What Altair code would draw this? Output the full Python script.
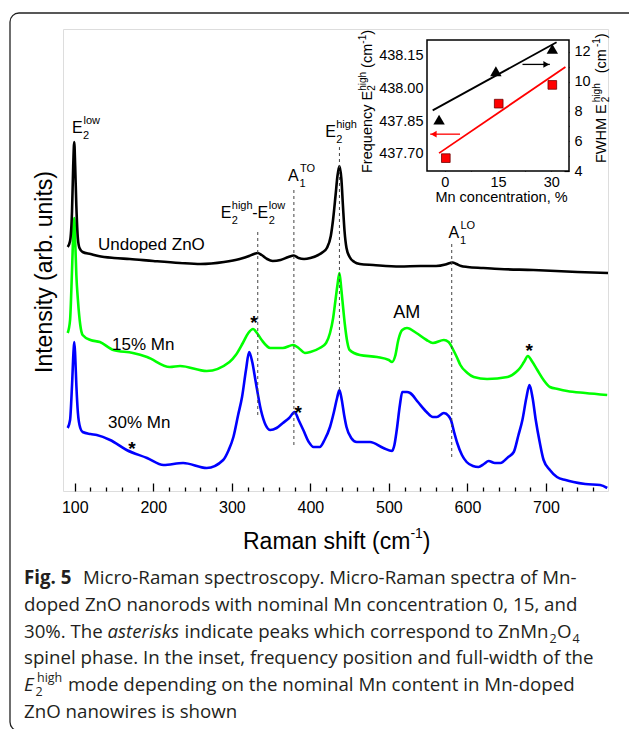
import altair as alt
import pandas as pd

FONT = "Liberation Sans"
CAPFONT = "Open Sans"

# ---------------- spectra: Raman shift (cm-1) / intensity (arb. units) ----------------
BLACK_X = [91, 94, 96.5, 98, 99.3, 100.5, 102, 104, 106, 110, 120, 130, 150, 170, 200, 234, 260, 290, 310, 322,
           328, 333, 338, 345, 352, 362, 372, 379, 385, 392, 400, 410, 416, 421, 426, 429, 432, 434.5, 437, 439.5,
           441.5, 443.5, 446, 450, 456, 463, 480, 514, 540, 560, 572, 578, 581, 586, 592, 600, 620, 641, 684, 740, 779]
BLACK_Y = [244, 250, 280, 325, 349, 325, 285, 252, 243, 239, 237, 235, 233, 232, 230, 228, 227, 229, 232, 235,
           237, 238, 236, 232, 230, 231, 234, 235.5, 233, 232, 233, 236, 239, 243, 255, 272, 295, 315, 325, 312,
           285, 260, 243, 234, 229, 227, 226, 224.5, 225, 225, 226.5, 228, 228.5, 227, 225, 224, 223, 222, 221, 219, 218]

GREEN_X = [91, 94, 96.5, 98.5, 99.3, 100.5, 102, 104, 107, 110, 120, 132, 149, 174, 192, 221, 234, 268, 297, 305,
           314, 321, 327, 332, 338, 349, 365, 378, 385, 393, 400, 412, 420, 425, 429, 432, 434.5, 437, 439.5, 442,
           444, 447, 450, 463, 485, 500, 504, 508, 512, 517, 523, 535, 548, 556, 570, 576, 582, 587, 591, 600,
           608, 625, 651, 662, 667, 672, 677, 682, 689, 697, 705, 715, 727, 750, 778]
GREEN_Y = [158, 171, 221, 266, 273, 251, 216, 191, 166, 156, 151, 149, 141, 138, 134, 124, 125, 120, 129, 136,
           148, 158, 162, 158, 151, 143, 143, 146, 143, 138, 139, 143, 148, 158, 173, 191, 206, 218, 201, 181,
           166, 149, 141, 136, 134, 131, 129, 135, 151, 161, 163, 158, 151, 148, 151, 149, 141, 133, 126, 118,
           114, 112, 114, 119, 123, 129, 135, 130, 121, 111, 104, 102, 100, 98, 96]

BLUE_X = [91, 94, 96.5, 98.5, 99.4, 100.5, 102, 104, 107, 110, 120, 128, 145, 166, 192, 213, 238, 268, 289, 296,
          302, 308, 313, 318, 322, 326, 330, 337, 343, 349, 357, 365, 373, 380, 385, 391, 398, 404, 412, 418,
          425, 430, 434, 437, 440, 443, 446, 452, 459, 476, 493, 504, 507, 510, 514, 517, 523, 527, 537, 548,
          556, 561, 570, 576, 579, 583, 587, 593, 599, 607, 614, 621, 627, 635, 642, 652, 659, 665, 670, 675,
          679, 683, 687, 692, 697, 705, 714, 725, 735, 750, 769, 778]
BLUE_Y = [63, 71, 106, 141, 149, 136, 106, 78, 63, 59, 57, 56, 51, 41, 33, 26, 28, 23, 31, 41,
          54, 76, 94, 121, 139, 129, 111, 81, 66, 61, 63, 68, 73, 79, 71, 61, 49, 44, 44, 51,
          64, 79, 93, 101, 91, 76, 64, 53, 49, 49, 43, 40, 46, 61, 86, 99, 99, 98, 89, 79,
          74, 74, 78, 75, 71, 59, 48, 36, 29, 25, 24, 27, 30, 28, 28, 34, 39, 56, 71, 93,
          106, 93, 71, 49, 31, 21, 14, 11, 9, 7, 6, 3]

MAJOR_TICKS = [100, 200, 300, 400, 500, 600, 700]
MINOR_TICKS = [120, 140, 160, 180, 220, 240, 260, 280, 320, 340, 360, 380, 420, 440, 460, 480,
               520, 540, 560, 580, 620, 640, 660, 680, 720, 740, 760, 780]

# mode positions (dashed guides): x, top, bottom (intensity)
MODE_X = [333, 379, 437, 580]
MODE_TOP = [261, 304, 346, 249]
MODE_BOT = [76, 46, 101, 34]

# ---------------- inset ----------------
CONC_TRI = [-1.6, 14.4, 30.3]
FWHM_VAL = [7.45, 10.70, 12.2]
CONC_SQ = [0.3, 15.2, 30.3]
FREQ_VAL = [437.680, 437.930, 438.016]
FIT_FWHM_X = [-3.4, 31.5]
FIT_FWHM_Y = [8.07, 12.65]
FIT_FREQ_X = [-1.6, 34.0]
FIT_FREQ_Y = [437.703, 438.098]
ARROW_FREQ = {"x0": 4.3, "x1": -4.1, "y": 437.79}
ARROW_FWHM = {"x0": 21.9, "x1": 29.6, "y": 11.16}
INSET_X_TICKS = [0, 15, 30]
INSET_X_MINOR = [7.5, 22.5]
FREQ_TICKS = [437.70, 437.85, 438.00, 438.15]
FREQ_MINOR = [437.775, 437.925, 438.075]
FWHM_TICKS = [4, 6, 8, 10, 12]
FWHM_MINOR = [5, 7, 9, 11]

# ---------------- geometry ----------------
W, H = 545, 462
OX, OY = 63, 29               # plot origin in page pixels
XDOM = [85, 779]
KX = W / (XDOM[1] - XDOM[0])
IX0, IX1, IY0, IY1 = 364, 506, 11, 142   # inset box (relative px)


def XM():
    return alt.Scale(domain=XDOM, nice=False, zero=False)


def YM():
    return alt.Scale(domain=[0, H], nice=False, zero=False)


def XI():
    return alt.Scale(domain=[-5, 35], range=[IX0, IX1], nice=False, zero=False)


def YF():
    return alt.Scale(domain=[437.621, 438.222], range=[IY1, IY0], nice=False, zero=False)


def YW():
    return alt.Scale(domain=[4, 12.8], range=[IY1, IY0], nice=False, zero=False)


NOAX = dict(grid=False, title=None)

# ---------------- spectra layers ----------------
def spectrum(xs, ys, color, xaxis):
    df = pd.DataFrame({"x": xs, "y": ys})
    return alt.Chart(df).mark_line(color=color, strokeWidth=2.6, interpolate="monotone").encode(
        x=alt.X("x:Q", scale=XM(), axis=xaxis),
        y=alt.Y("y:Q", scale=YM(), axis=None),
    )


black = spectrum(BLACK_X, BLACK_Y, "#000000",
                 alt.Axis(orient="bottom", values=MAJOR_TICKS, format="d", ticks=False, domain=False,
                          labelFontSize=16, labelPadding=8, labelColor="black", labelFont=FONT, **NOAX))
green = spectrum(GREEN_X, GREEN_Y, "#00ff00",
                 alt.Axis(orient="top", offset=-H, values=MAJOR_TICKS, ticks=True, tickSize=8, tickWidth=1.3,
                          tickColor="black", labels=False, domain=False, **NOAX))
blue = spectrum(BLUE_X, BLUE_Y, "#0000ff",
                alt.Axis(orient="top", offset=-H, values=MINOR_TICKS, ticks=True, tickSize=4, tickWidth=1.3,
                         tickColor="black", labels=False, domain=False, **NOAX))

modes = alt.Chart(pd.DataFrame({"x": MODE_X, "y": MODE_BOT, "y2": MODE_TOP})).mark_rule(
    color="#444444", strokeWidth=1, strokeDash=[3, 3]).encode(
    x=alt.X("x:Q", scale=XM(), axis=None),
    y=alt.Y("y:Q", scale=YM(), axis=None),
    y2="y2:Q",
)

# ---------------- peak labels (anchor in data units, pieces offset in px) ----------------
PEAK_LABELS = [
    (96.5, 358, [("E", "M", 0, 0), ("2", "s", 11, 6), ("low", "s", 11.5, -9)]),
    (285.9, 273, [("E", "M", 0, 0), ("2", "s", 11, 6), ("high", "s", 11, -9),
                  ("-E", "M", 31.5, 0), ("2", "s", 48, 6), ("low", "s", 48, -9)]),
    (371.6, 310, [("A", "M", 0, 0), ("1", "s", 11.5, 6), ("TO", "s", 12, -9)]),
    (418.8, 354, [("E", "M", 0, 0), ("2", "s", 11, 6), ("high", "s", 11, -9)]),
    (575.8, 253, [("A", "M", 0, 0), ("1", "s", 11.5, 6), ("LO", "s", 12, -9)]),
]
rows_M, rows_s = [], []
for ax_, ay_, pieces in PEAK_LABELS:
    for t, role, dx, dy in pieces:
        r = {"x": ax_ + dx / KX, "y": ay_ - dy, "t": t}
        (rows_M if role == "M" else rows_s).append(r)


def data_text(rows, **mark):
    return alt.Chart(pd.DataFrame(rows)).mark_text(font=FONT, color="black", **mark).encode(
        x=alt.X("x:Q", scale=XM(), axis=None),
        y=alt.Y("y:Q", scale=YM(), axis=None),
        text="t:N",
    )


lab_M = data_text(rows_M, fontSize=16, align="left", baseline="alphabetic")
lab_s = data_text(rows_s, fontSize=11, align="left", baseline="alphabetic")

SAMPLE_NAMES = ["Undoped ZnO", "15% Mn", "30% Mn"]
SAMPLE_X = [129.6, 147.4, 142.3]
SAMPLE_Y = [246, 146, 68]
samples = data_text([{"x": a, "y": b, "t": c} for c, a, b in zip(SAMPLE_NAMES, SAMPLE_X, SAMPLE_Y)],
                    fontSize=17, align="left", baseline="middle")
am = data_text([{"x": 505.4, "y": 178, "t": "AM"}], fontSize=18, align="left", baseline="middle")

STAR_X = [328.3, 384.4, 172.9, 678.6]
STAR_Y = [162.4, 72.4, 36.4, 134.4]
stars = data_text([{"x": a, "y": b, "t": "*"} for a, b in zip(STAR_X, STAR_Y)],
                  fontSize=19, fontWeight="bold", align="center", baseline="alphabetic")

# ---------------- inset layers ----------------
inset_box = alt.Chart(pd.DataFrame({"x": [-5], "x2": [35], "y": [437.621], "y2": [438.222]})).mark_rect(
    fill="white", stroke="black", strokeWidth=1.5).encode(
    x=alt.X("x:Q", scale=XI(), axis=alt.Axis(orient="bottom", offset=IY1 - H, values=INSET_X_TICKS, format="d",
                                             ticks=False, domain=False, labelFontSize=14.5, labelPadding=4,
                                             labelColor="black", labelFont=FONT, **NOAX)),
    x2="x2:Q",
    y=alt.Y("y:Q", scale=YF(), axis=alt.Axis(orient="left", offset=-IX0, values=FREQ_TICKS, format=".2f",
                                             ticks=False, domain=False, labelFontSize=14.5, labelPadding=4,
                                             labelColor="black", labelFont=FONT, **NOAX)),
    y2="y2:Q",
)

red_fit = alt.Chart(pd.DataFrame({"x": FIT_FREQ_X, "y": FIT_FREQ_Y})).mark_line(color="#ff0000", strokeWidth=1.8).encode(
    x=alt.X("x:Q", scale=XI(), axis=alt.Axis(orient="top", offset=-IY1, values=INSET_X_TICKS, tickSize=5,
                                             tickColor="black", tickWidth=1.2, labels=False, domain=False, **NOAX)),
    y=alt.Y("y:Q", scale=YF(), axis=alt.Axis(orient="right", offset=IX0 - W, values=FREQ_TICKS, tickSize=5,
                                             tickColor="black", tickWidth=1.2, labels=False, domain=False, **NOAX)),
)
red_pts = alt.Chart(pd.DataFrame({"x": CONC_SQ, "y": FREQ_VAL})).mark_point(
    shape="square", filled=True, fill="#ff0000", stroke="#700000", strokeWidth=0.8, size=75, opacity=1).encode(
    x=alt.X("x:Q", scale=XI(), axis=alt.Axis(orient="top", offset=-IY1, values=INSET_X_MINOR, tickSize=5,
                                             tickColor="black", tickWidth=1.2, labels=False, domain=False, **NOAX)),
    y=alt.Y("y:Q", scale=YF(), axis=alt.Axis(orient="right", offset=IX0 - W, values=FREQ_MINOR, tickSize=3,
                                             tickColor="black", tickWidth=1.2, labels=False, domain=False, **NOAX)),
)
red_arrow = alt.Chart(pd.DataFrame({"x": [ARROW_FREQ["x0"]], "x2": [ARROW_FREQ["x1"]], "y": [ARROW_FREQ["y"]]})).mark_rule(
    color="#ff0000", strokeWidth=1.3).encode(
    x=alt.X("x:Q", scale=XI(), axis=None), x2="x2:Q", y=alt.Y("y:Q", scale=YF(), axis=None))
red_head = alt.Chart(pd.DataFrame({"x": [ARROW_FREQ["x1"] + 1.0], "y": [ARROW_FREQ["y"]]})).mark_point(
    shape="triangle-left", filled=True, color="#ff0000", size=45, opacity=1).encode(
    x=alt.X("x:Q", scale=XI(), axis=None), y=alt.Y("y:Q", scale=YF(), axis=None))

black_fit = alt.Chart(pd.DataFrame({"x": FIT_FWHM_X, "y": FIT_FWHM_Y})).mark_line(color="black", strokeWidth=1.8).encode(
    x=alt.X("x:Q", scale=XI(), axis=None),
    y=alt.Y("y:Q", scale=YW(), axis=alt.Axis(orient="right", offset=IX1 - W, values=FWHM_TICKS, format="d",
                                             ticks=False, domain=False, labelFontSize=14.5, labelPadding=5,
                                             labelColor="black", labelFont=FONT, **NOAX)),
)
tri_pts = alt.Chart(pd.DataFrame({"x": CONC_TRI, "y": FWHM_VAL})).mark_point(
    shape="triangle-up", filled=True, color="black", size=130, opacity=1).encode(
    x=alt.X("x:Q", scale=XI(), axis=None),
    y=alt.Y("y:Q", scale=YW(), axis=alt.Axis(orient="left", offset=-IX1, values=FWHM_TICKS, tickSize=5,
                                             tickColor="black", tickWidth=1.2, labels=False, domain=False, **NOAX)),
)
black_arrow = alt.Chart(pd.DataFrame({"x": [ARROW_FWHM["x0"]], "x2": [ARROW_FWHM["x1"]], "y": [ARROW_FWHM["y"]]})).mark_rule(
    color="black", strokeWidth=1.3).encode(
    x=alt.X("x:Q", scale=XI(), axis=None), x2="x2:Q",
    y=alt.Y("y:Q", scale=YW(), axis=alt.Axis(orient="left", offset=-IX1, values=FWHM_MINOR, tickSize=3,
                                             tickColor="black", tickWidth=1.2, labels=False, domain=False, **NOAX)),
)
black_head = alt.Chart(pd.DataFrame({"x": [ARROW_FWHM["x1"] - 1.0], "y": [ARROW_FWHM["y"]]})).mark_point(
    shape="triangle-right", filled=True, color="black", size=45, opacity=1).encode(
    x=alt.X("x:Q", scale=XI(), axis=None), y=alt.Y("y:Q", scale=YW(), axis=None))

# ---------------- titles & caption (page pixel positions) ----------------
def page_text(rows, **mark):
    df = pd.DataFrame([{"x": x - OX, "y": y - OY, "t": t} for t, x, y in rows])
    return alt.Chart(df).mark_text(**mark).encode(
        x=alt.X("x:Q", scale=None, axis=None),
        y=alt.Y("y:Q", scale=None, axis=None),
        text="t:N",
    )


TITLE_BIG = [("Raman shift (cm", 243, 549), (")", 422.8, 549)]
TITLE_SUP = [("-1", 410.4, 538)]
titles_big = page_text(TITLE_BIG, font=FONT, fontSize=23, align="left", baseline="alphabetic", color="black")
titles_sup = page_text(TITLE_SUP, font=FONT, fontSize=14, align="left", baseline="alphabetic", color="black")
ytitle = page_text([("Intensity (arb. units)", 45, 272)], font=FONT, fontSize=23, angle=270, align="center",
                   baseline="middle", color="black")

INSET_T_BIG = [("Frequency E", 372, 173), ("(cm", 372, 67.9), (")", 372, 34.8),
               ("FWHM E", 606, 163), ("(cm", 606, 73.3), (")", 606, 38.2)]
INSET_T_SUB = [("2", 375, 90.8), ("2", 609, 102.2)]
INSET_T_SUP = [("high", 366, 90.8), ("-1", 366, 43.7), ("high", 600, 102.2), ("-1", 600, 47.1)]
it_big = page_text(INSET_T_BIG, font=FONT, fontSize=14.5, angle=270, align="left", baseline="alphabetic", color="black")
it_sub = page_text(INSET_T_SUB, font=FONT, fontSize=10, angle=270, align="left", baseline="alphabetic", color="black")
it_sup = page_text(INSET_T_SUP, font=FONT, fontSize=10, angle=270, align="left", baseline="alphabetic", color="black")
it_x = page_text([("Mn concentration, %", 501.5, 202)], font=FONT, fontSize=14.5, align="center",
                 baseline="alphabetic", color="black")

CAP_COLOR = "#231f20"
CAP_SIZE = 18.7
CAPTION_PLAIN = [
    ("Micro-Raman spectroscopy. Micro-Raman spectra of Mn-", 83, 584),
    ("doped ZnO nanorods with nominal Mn concentration 0, 15, and", 24, 611),
    ("30%. The", 24, 638),
    ("indicate peaks which correspond to ZnMn", 184.5, 638),
    ("O", 557, 638),
    ("spinel phase. In the inset, frequency position and full-width of the", 24, 664),
    ("mode depending on the nominal Mn content in Mn-doped", 68, 691),
    ("ZnO nanowires is shown", 24, 718),
]
CAPTION_BOLD = [("Fig. 5", 24, 584)]
CAPTION_ITALIC = [("asterisks", 107.5, 638), ("E", 24, 691)]
CAPTION_SMALL = [("2", 549.5, 643), ("4", 572.5, 643), ("2", 35.5, 695.5), ("high", 37, 682)]
cap_plain = page_text(CAPTION_PLAIN, font=CAPFONT, fontSize=CAP_SIZE, align="left", baseline="alphabetic",
                      color=CAP_COLOR)
cap_bold = page_text(CAPTION_BOLD, font=CAPFONT, fontSize=CAP_SIZE, fontWeight="bold", align="left",
                     baseline="alphabetic", color=CAP_COLOR)
cap_ital = page_text(CAPTION_ITALIC, font=CAPFONT, fontSize=CAP_SIZE, fontStyle="italic", align="left",
                     baseline="alphabetic", color=CAP_COLOR)
cap_small = page_text(CAPTION_SMALL, font=CAPFONT, fontSize=12.5, align="left", baseline="alphabetic", color=CAP_COLOR)

frame = alt.Chart(pd.DataFrame({"a": [0]})).mark_rect(
    fillOpacity=0, stroke="#222222", strokeWidth=1.3, cornerRadius=9).encode(
    x=alt.value(10 - OX), x2=alt.value(700), y=alt.value(13 - OY), y2=alt.value(731 - OY))

chart = alt.layer(
    frame, blue, green, black, modes, lab_M, lab_s, samples, am, stars,
    inset_box, red_fit, red_pts, red_arrow, red_head, black_fit, tri_pts, black_arrow, black_head,
    titles_big, titles_sup, ytitle, it_big, it_sub, it_sup, it_x,
    cap_plain, cap_bold, cap_ital, cap_small,
).resolve_scale(x="independent", y="independent").properties(
    width=W, height=H,
    autosize=alt.AutoSizeParams(type="none"),
    padding={"left": OX, "top": OY, "right": 629 - OX - W, "bottom": 729 - OY - H},
).configure_view(stroke="black", strokeWidth=1.5).configure(font=FONT, background="white")

chart.save("out.html", embed_options={"renderer": "svg", "actions": False})
